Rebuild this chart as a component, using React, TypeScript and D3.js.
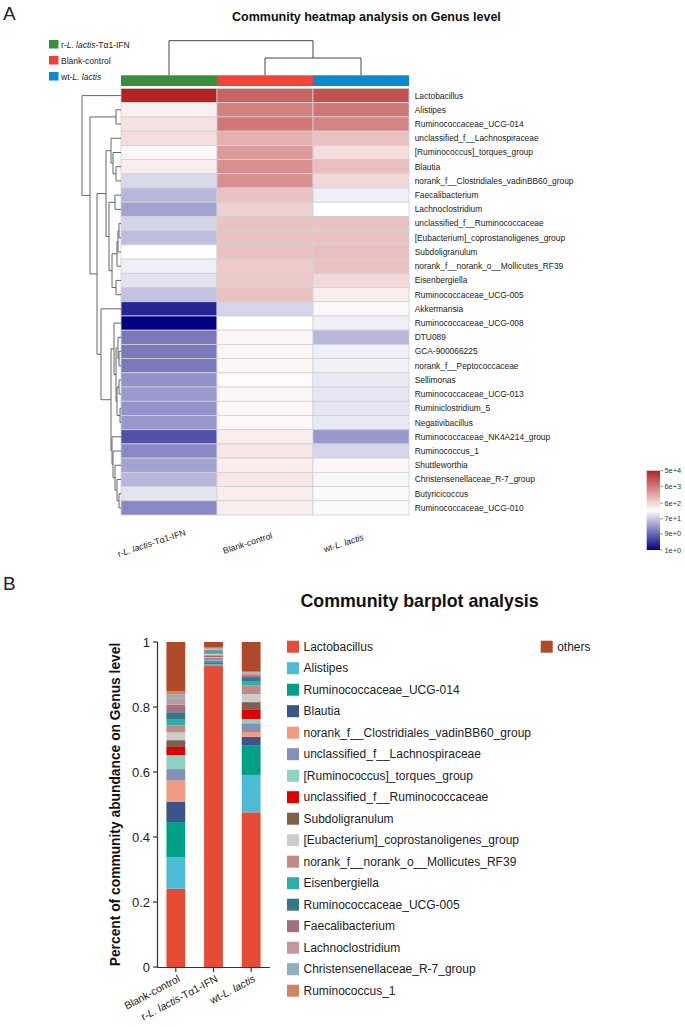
import React from 'react';
import * as d3 from 'd3';

const FONT = 'Liberation Sans, Arial, Helvetica, sans-serif';

// ---------- Heatmap data ----------
const groups = ['r-L. lactis-Tα1-IFN', 'Blank-control', 'wt-L. lactis'];
const groupColors = ['#388E3C', '#F2433A', '#0A88D0'];

const genera = [
  'Lactobacillus', 'Alistipes', 'Ruminococcaceae_UCG-014', 'unclassified_f__Lachnospiraceae',
  '[Ruminococcus]_torques_group', 'Blautia', 'norank_f__Clostridiales_vadinBB60_group',
  'Faecalibacterium', 'Lachnoclostridium', 'unclassified_f__Ruminococcaceae',
  '[Eubacterium]_coprostanoligenes_group', 'Subdoligranulum', 'norank_f__norank_o__Mollicutes_RF39',
  'Eisenbergiella', 'Ruminococcaceae_UCG-005', 'Akkermansia', 'Ruminococcaceae_UCG-008', 'DTU089',
  'GCA-900066225', 'norank_f__Peptococcaceae', 'Sellimonas', 'Ruminococcaceae_UCG-013',
  'Ruminiclostridium_5', 'Negativibacillus', 'Ruminococcaceae_NK4A214_group', 'Ruminococcus_1',
  'Shuttleworthia', 'Christensenellaceae_R-7_group', 'Butyricicoccus', 'Ruminococcaceae_UCG-010',
];

const abundRL = [50000, 320, 450, 500, 280, 350, 100, 50, 32, 90, 56, 224, 160, 125, 63, 2.2, 1, 13, 13, 13, 22, 26, 23, 25, 5.6, 18, 32, 50, 125, 18];
const abundBlank = [10000, 5000, 6300, 1600, 2500, 3500, 3500, 1000, 700, 1000, 1000, 1000, 800, 800, 1000, 90, 224, 280, 280, 280, 250, 280, 280, 265, 350, 400, 350, 400, 350, 350];
const abundWT = [16000, 6300, 4500, 1000, 500, 1100, 560, 160, 224, 1000, 1000, 1100, 1000, 560, 350, 265, 160, 50, 160, 166, 140, 132, 132, 140, 25, 90, 280, 186, 200, 200];

const legendTicks = [50000, 6000, 600, 70, 9, 1];

// Row dendrogram: [height, left, right]; leaves are row indices
type Tree = number | [number, Tree, Tree];
const rowTree: Tree = [39, 0,
  [31, [5, 1, 2],
    [24,
      [15,
        [10, 3, [8, 4, [5, 5, 6]]],
        [12, [6, 7, 8], [9, [4, [3, [2, 9, 10], 11], 12], [5, 13, 14]]]],
      [20, 15,
        [10,
          [7, 16, [5, [3, 17, [2, 18, 19]], [4, [2, 20, 21], [1, 22, 23]]]],
          [9, 24, [8, 25, [6, 26, [4, 27, [2, 28, 29]]]]]]]]]];
const colTree: Tree = [2, 0, [1, 1, 2]];

// ---------- Barplot data ----------
const barGroups = ['Blank-control', 'r-L. lactis-Tα1-IFN', 'wt-L. lactis'];
const barTaxa = [
  'Lactobacillus', 'Alistipes', 'Ruminococcaceae_UCG-014', 'Blautia', 'norank_f__Clostridiales_vadinBB60_group',
  'unclassified_f__Lachnospiraceae', '[Ruminococcus]_torques_group', 'unclassified_f__Ruminococcaceae',
  'Subdoligranulum', '[Eubacterium]_coprostanoligenes_group', 'norank_f__norank_o__Mollicutes_RF39',
  'Eisenbergiella', 'Ruminococcaceae_UCG-005', 'Faecalibacterium', 'Lachnoclostridium',
  'Christensenellaceae_R-7_group', 'Ruminococcus_1', 'others',
];
const barColors = [
  '#E64B35', '#4DBBD5', '#00A087', '#3C5488', '#F39B7F', '#8491B4', '#91D1C2', '#DC0000',
  '#7E6148', '#CCCCCC', '#BE8C84', '#2FAEAA', '#347787', '#A0717F', '#C4979B', '#8FB0BC', '#D0855F', '#B0482A',
];
const fracBlank = [0.241, 0.097, 0.108, 0.063, 0.065, 0.035, 0.043, 0.025, 0.021, 0.024, 0.021, 0.018, 0.023, 0.023, 0.018, 0.013, 0.011, 0.151];
const fracRL = [0.926, 0.005, 0.006, 0.004, 0.002, 0.008, 0.003, 0.002, 0.003, 0.004, 0.003, 0.004, 0.002, 0.003, 0.002, 0.004, 0.002, 0.017];
const fracWT = [0.476, 0.115, 0.090, 0.027, 0.015, 0.027, 0.013, 0.028, 0.024, 0.025, 0.026, 0.014, 0.012, 0.006, 0.006, 0.003, 0.002, 0.091];
const yTicks = [0, 0.2, 0.4, 0.6, 0.8, 1];

function GroupLabel({ name }: { name: string }) {
  const i = name.indexOf('L. lactis');
  if (i < 0) return <>{name}</>;
  return (
    <>
      {name.slice(0, i)}
      <tspan fontStyle="italic">L. lactis</tspan>
      {name.slice(i + 9)}
    </>
  );
}

export default function App() {
  // heatmap scales
  const xH = d3.scaleBand<string>().domain(groups).range([121, 409]);
  const yH = d3.scaleBand<string>().domain(genera).range([88.5, 515]);
  const color = d3.scaleLog<string>()
    .domain([1, Math.sqrt(50000), 50000])
    .range(['#000080', '#FFFFFF', '#B22222'])
    .interpolate(d3.interpolateRgb);
  const matrix = [abundRL, abundBlank, abundWT];

  // row dendrogram
  const rowX = d3.scaleLinear().domain([0, 39]).range([121, 82]);
  const rowSegs: string[] = [];
  const walkRow = (t: Tree): { y: number; x: number } => {
    if (typeof t === 'number') return { y: (yH(genera[t]) as number) + yH.bandwidth() / 2, x: 121 };
    const [h, a, b] = t;
    const ca = walkRow(a);
    const cb = walkRow(b);
    const x = rowX(h);
    rowSegs.push(`M${x},${ca.y}H${ca.x}`, `M${x},${cb.y}H${cb.x}`, `M${x},${ca.y}V${cb.y}`);
    return { y: (ca.y + cb.y) / 2, x };
  };
  walkRow(rowTree);

  // column dendrogram
  const colY = d3.scaleLinear().domain([0, 2]).range([75.3, 40.7]);
  const colSegs: string[] = [];
  const walkCol = (t: Tree): { x: number; y: number } => {
    if (typeof t === 'number') return { x: (xH(groups[t]) as number) + xH.bandwidth() / 2, y: 75.3 };
    const [h, a, b] = t;
    const ca = walkCol(a);
    const cb = walkCol(b);
    const y = colY(h);
    colSegs.push(`M${ca.x},${y}V${ca.y}`, `M${cb.x},${y}V${cb.y}`, `M${ca.x},${y}H${cb.x}`);
    return { x: (ca.x + cb.x) / 2, y };
  };
  walkCol(colTree);

  // color legend
  const legY = d3.scaleLog().domain([1, 50000]).range([550, 470.7]);
  const gradStops = d3.range(0, 21).map((i) => {
    const v = Math.pow(10, (Math.log10(50000) * i) / 20);
    return { off: i / 20, c: color(v) };
  });
  const fmt = d3.format('.0e');

  // barplot
  const xB = d3.scaleBand<string>().domain(barGroups).range([157, 270]).paddingInner(0.5).paddingOuter(0.25);
  const yB = d3.scaleLinear().domain([0, 1]).range([967, 642]);
  const fracs = [fracBlank, fracRL, fracWT];
  const rows = barGroups.map((g, gi) => {
    const o: any = { group: g };
    barTaxa.forEach((t, ti) => (o[t] = fracs[gi][ti]));
    return o;
  });
  const stacked = d3.stack<any>().keys(barTaxa)(rows);

  return (
    <svg width={685} height={1027} style={{ position: 'absolute', left: 0, top: 0, background: '#fff' }} fontFamily={FONT}>
      <rect width={685} height={1027} fill="#fff" />
      {/* Panel A */}
      <text x={3} y={20} fontSize={19} fill="#222">A</text>
      <text x={232} y={21} fontSize={12.5} fontWeight="bold" fill="#111">Community heatmap analysis on Genus level</text>

      {/* group legend */}
      {groups.map((g, i) => (
        <g key={g}>
          <rect x={49} y={40 + i * 16} width={9.5} height={8.5} fill={groupColors[i]} />
          <text x={61} y={47.5 + i * 16} fontSize={8.5} fill="#222"><GroupLabel name={g} /></text>
        </g>
      ))}

      {/* column dendrogram */}
      <path d={colSegs.join('')} stroke="#444" strokeWidth={1} fill="none" />
      {/* color bar */}
      {groups.map((g, i) => (
        <rect key={g} x={xH(g)} y={75.3} width={xH.bandwidth()} height={10.7} fill={groupColors[i]} />
      ))}

      {/* heatmap cells */}
      {groups.map((g, gi) =>
        genera.map((n, ri) => (
          <rect key={g + n} x={xH(g)} y={yH(n)} width={xH.bandwidth()} height={yH.bandwidth()}
            fill={color(matrix[gi][ri])} stroke="#D2D2D2" strokeWidth={0.8} />
        ))
      )}

      {/* row dendrogram */}
      <path d={rowSegs.join('')} stroke="#666" strokeWidth={1} fill="none" />

      {/* row labels */}
      {genera.map((n) => (
        <text key={n} x={414.7} y={(yH(n) as number) + yH.bandwidth() / 2} dy="0.35em" fontSize={8.4} fill="#222">{n}</text>
      ))}

      {/* column labels */}
      {groups.map((g) => {
        const cx = (xH(g) as number) + xH.bandwidth() / 2 - 16.5;
        return (
          <text key={g} transform={`translate(${cx},546) rotate(-18)`} textAnchor="middle" fontSize={8.8} fill="#222">
            <GroupLabel name={g} />
          </text>
        );
      })}

      {/* color legend */}
      <defs>
        <linearGradient id="hmgrad" x1="0" y1="1" x2="0" y2="0">
          {gradStops.map((s) => (
            <stop key={s.off} offset={s.off} stopColor={s.c} />
          ))}
        </linearGradient>
      </defs>
      <rect x={646.7} y={470.7} width={13.3} height={550 - 470.7} fill="url(#hmgrad)" />
      {legendTicks.map((t) => (
        <g key={t}>
          <line x1={660} x2={663} y1={legY(t)} y2={legY(t)} stroke="#555" strokeWidth={0.6} />
          <text x={664.5} y={legY(t)} dy="0.35em" fontSize={7.4} fill="#333">{fmt(t)}</text>
        </g>
      ))}

      {/* Panel B */}
      <text x={3} y={590} fontSize={19} fill="#222">B</text>
      <text x={300.5} y={607} fontSize={17.8} fontWeight="bold" fill="#111">Community barplot analysis</text>

      {/* bars */}
      {stacked.map((s, si) =>
        s.map((d, di) => (
          <rect key={barTaxa[si] + di} x={xB(barGroups[di])} width={xB.bandwidth()}
            y={yB(d[1])} height={Math.max(0, yB(d[0]) - yB(d[1]))} fill={barColors[si]} />
        ))
      )}

      {/* axes */}
      <line x1={157.5} x2={157.5} y1={642} y2={967.5} stroke="#333" strokeWidth={1.2} />
      <line x1={157} x2={270} y1={967.5} y2={967.5} stroke="#333" strokeWidth={1.2} />
      {yTicks.map((t) => (
        <g key={t}>
          <line x1={153} x2={157.5} y1={yB(t)} y2={yB(t)} stroke="#333" strokeWidth={1.2} />
          <text x={150} y={yB(t)} dy="0.35em" textAnchor="end" fontSize={13} fill="#222">{String(t)}</text>
        </g>
      ))}
      {barGroups.map((g) => {
        const cx = (xB(g) as number) + xB.bandwidth() / 2;
        return (
          <g key={g}>
            <line x1={cx} x2={cx} y1={967.5} y2={972} stroke="#333" strokeWidth={1.2} />
            <text transform={`translate(${cx + 5},981) rotate(-28)`} textAnchor="end" fontSize={10.5} fill="#222">
              <GroupLabel name={g} />
            </text>
          </g>
        );
      })}
      <text transform="translate(120,804.5) rotate(-90)" textAnchor="middle" fontSize={13.8} fontWeight="bold" fill="#111">
        Percent of community abundance on Genus level
      </text>

      {/* legend */}
      {barTaxa.map((t, i) => {
        const col = t === 'others' ? 1 : 0;
        const row = t === 'others' ? 0 : i;
        const x = col ? 540.7 : 287;
        const y = 640.7 + row * 21.5;
        return (
          <g key={t}>
            <rect x={x} y={y} width={12} height={12} fill={barColors[i]} />
            <text x={x + 16.5} y={y + 6} dy="0.35em" fontSize={12} fill="#222">{t}</text>
          </g>
        );
      })}
    </svg>
  );
}
